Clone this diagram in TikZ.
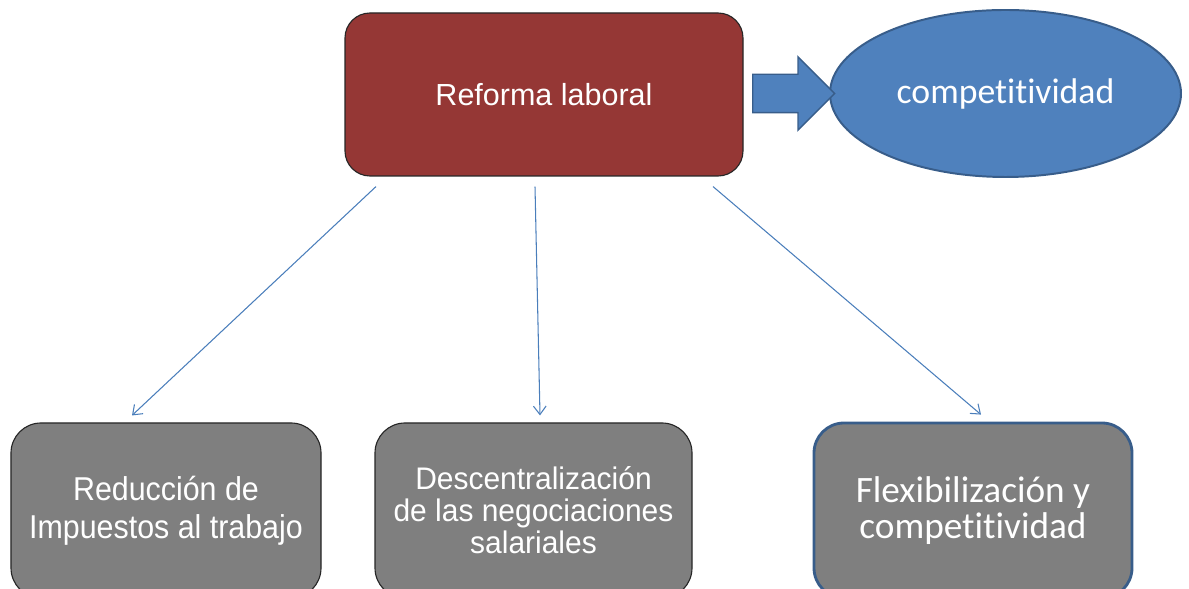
\documentclass[tikz,border=0pt]{standalone}
\usepackage{fontspec}
\setmainfont{Liberation Sans}
\newfontfamily\arialn[FakeStretch=0.92]{Liberation Sans}
\newfontfamily\arialm[FakeStretch=0.96]{Liberation Sans}
\newfontfamily\calibri[Ligatures=NoCommon]{Carlito}
\usetikzlibrary{arrows.meta,shapes.geometric,shapes.arrows}
\definecolor{rojo}{HTML}{953735}
\definecolor{azul}{HTML}{4F81BD}
\definecolor{azulborde}{HTML}{385D8A}
\definecolor{linea}{HTML}{4A7EBB}
\definecolor{gris}{HTML}{7F7F7F}

\begin{document}
\begin{tikzpicture}[
        caja/.style={draw=black!85, line width=0.8pt, fill=gris, rounded corners=0.75cm,
            minimum height=4.375cm, inner sep=0pt, align=center, text=white},
        flecha/.style={draw=linea, line width=0.75pt, -{Straight Barb[length=6pt,width=9pt]}}
    ]
        \useasboundingbox (0, 0) rectangle (29.725, 14.725);

        \node[draw=black!85, line width=0.8pt, fill=rojo, rounded corners=0.625cm,
            minimum width=9.95cm, minimum height=4.075cm, text=white,
            font=\fontsize{21.7}{26}\selectfont] (reforma) at (13.6, 12.3625) {Reforma laboral};
        \node[ellipse, draw=azulborde, line width=1.4pt, fill=azul,
            minimum width=8.775cm, minimum height=4.175cm, text=white,
            font=\calibri\fontsize{25.4}{30}\selectfont] (compet) at (25.1375, 12.3875) {competitividad};
        \node[single arrow, anchor=tail, draw=azulborde, line width=1pt, fill=azul, inner xsep=0pt, inner ysep=0.4625cm,
            minimum height=2.05cm, minimum width=1.8cm, single arrow head extend=0.4375cm] (bloque) at (18.8, 12.3875) {};

        \node[caja, minimum width=7.75cm, font=\arialn\fontsize{23.5}{27}\selectfont]
            (reduccion) at (4.15, 1.9625) {Reducción de\\Impuestos al trabajo};
        \node[caja, minimum width=7.925cm, font=\arialm\fontsize{22.2}{22.8}\selectfont]
            (descent) at (13.3375, 1.9625) {Descentralización\\de las negociaciones\\salariales};
        \node[caja, draw=azulborde, line width=2pt, minimum width=7.95cm, font=\calibri\fontsize{26.5}{25.5}\selectfont]
            (flexib) at (24.325, 1.9625) {Flexibilización y\\competitividad};

        \foreach \dx/\destino/\ex in {-4.2/reduccion/-0.85, -0.225/descent/0.1625, 4.225/flexib/0.2}{
            \draw[flecha] ([xshift=\dx cm, yshift=-0.25cm]reforma.south) -- ([xshift=\ex cm, yshift=0.175cm]\destino.north);
        };
\end{tikzpicture}
\end{document}
